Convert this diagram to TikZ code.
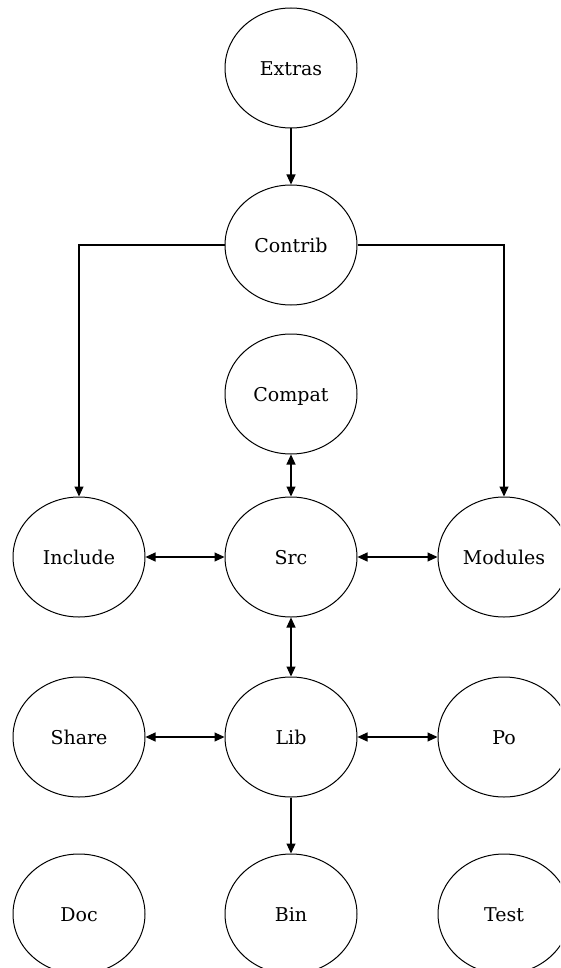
\documentclass[tikz,border=0pt]{standalone}
\usepackage{fontspec}
\setmainfont{DejaVu Serif}
\usetikzlibrary{arrows.meta,shapes.geometric}
\begin{document}
\begin{tikzpicture}[x=1pt,y=-1pt,
  mod/.style={draw, ellipse, line width=1pt, minimum width=132pt, minimum height=120pt,
              inner sep=0pt, text height=15pt, text depth=0pt,
              font=\fontsize{19}{22}\selectfont},
  link/.style={line width=1.1pt, -{Triangle[length=10pt,width=9pt]}},
  both/.style={line width=1.1pt, {Triangle[length=10pt,width=9pt]}-{Triangle[length=10pt,width=9pt]}}]
  \clip (0,0) rectangle (560,968);
  \fill[white] (0,0) rectangle (560,968);
  % module bubbles
  \node[mod] (extras)  at (291,68)  {Extras};
  \node[mod] (contrib) at (291,245) {Contrib};
  \node[mod] (compat)  at (291,394) {Compat};
  \node[mod] (include) at (79,557)  {Include};
  \node[mod] (src)     at (291,557) {Src};
  \node[mod] (modules) at (504,557) {Modules};
  \node[mod] (share)   at (79,737)  {Share};
  \node[mod] (lib)     at (291,737) {Lib};
  \node[mod] (po)      at (504,737) {Po};
  \node[mod] (doc)     at (79,914)  {Doc};
  \node[mod] (bin)     at (291,914) {Bin};
  \node[mod] (test)    at (504,914) {Test};
  % dependencies
  \draw[link] (extras) -- (contrib);
  \draw[link] (contrib.west) -| (include.north);
  \draw[link] (contrib.east) -| (modules.north);
  \draw[both] (compat) -- (src);
  \draw[both] (include) -- (src);
  \draw[both] (src) -- (modules);
  \draw[both] (src) -- (lib);
  \draw[both] (share) -- (lib);
  \draw[both] (lib) -- (po);
  \draw[link] (lib) -- (bin);
\end{tikzpicture}
\end{document}
